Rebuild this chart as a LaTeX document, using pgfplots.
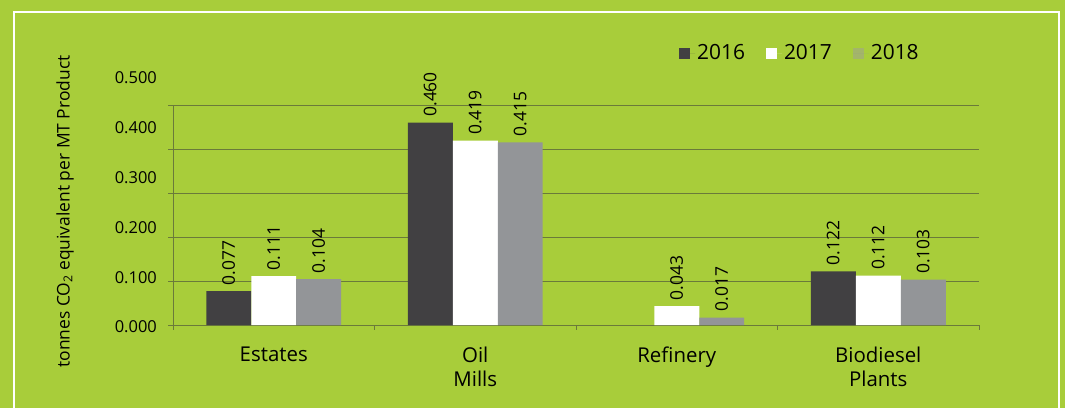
\documentclass[border=0pt]{standalone}
\usepackage{pgfplots}
\pgfplotsset{compat=1.18}
\usepackage{fontspec}
\setmainfont{Open Sans}
\definecolor{bg}{RGB}{168,205,58}
\definecolor{gridc}{RGB}{106,122,58}
\definecolor{c2016}{RGB}{65,64,66}
\definecolor{c2018}{RGB}{147,149,152}
\definecolor{leg2018}{RGB}{163,181,106}
\begin{document}
\begin{tikzpicture}
\path[use as bounding box] (0,0) rectangle (1065bp,408bp);
\fill[bg] (0,0) rectangle (1065bp,408bp);
\draw[white, line width=2bp] (14bp,-5bp) -- (14bp,396bp) -- (1059bp,396bp) -- (1059bp,-5bp);
% y tick labels (offset from grid as in the reference)
\begin{axis}[
  at={(173bp,81bp)}, anchor=south west, scale only axis,
  width=806bp, height=249bp,
  xmin=0, xmax=1, ymin=0, ymax=0.5,
  hide x axis, axis line style={draw=none},
  ytick={0,0.1,0.2,0.3,0.4,0.5},
  yticklabels={0.000,0.100,0.200,0.300,0.400,0.500},
  major tick length=0pt,
  yticklabel style={font=\fontsize{16.5}{20}\selectfont, anchor=east, inner sep=0pt, xshift=-16bp},
]
\end{axis}
\begin{axis}[
  at={(173bp,83bp)}, anchor=south west, scale only axis,
  width=806bp, height=220bp,
  xmin=-0.5, xmax=3.5, ymin=0, ymax=0.5,
  ybar=0pt, bar width=0.2233,
  axis x line*=bottom, axis y line*=left,
  axis line style={-, draw=gridc, line width=1bp},
  ytick={0,0.1,0.2,0.3,0.4,0.5}, yticklabels={},
  ymajorgrids, grid style={draw=gridc, line width=1bp},
  xtick={-0.5,0.5,1.5,2.5,3.5}, xticklabels={},
  extra x ticks={0,1,2,3},
  extra x tick labels={Estates,{Oil\\Mills},Refinery,{Biodiesel\\Plants}},
  extra x tick style={major tick length=0pt, grid=none,
    xticklabel style={align=center, font=\fontsize{20.5}{24}\selectfont, anchor=north, inner sep=0pt, yshift=-22bp}},
  tick align=outside, major tick length=5bp,
  tick style={draw=gridc, line width=1bp},
  clip=false,
  ylabel={tonnes CO\textsubscript{2} equivalent per MT Product},
  ylabel style={at={(axis description cs:-0.134,0.516)}, anchor=center, font=\fontsize{17.5}{20}\selectfont},
  nodes near coords={\pgfmathprintnumber[fixed,fixed zerofill,precision=3,assume math mode=true]{\pgfplotspointmeta}},
  every node near coord/.append style={rotate=90, anchor=west, inner xsep=6bp, inner ysep=0pt, outer sep=0pt, font=\fontsize{17.5}{20}\selectfont, text=black},
  legend style={at={(axis description cs:0.628,1.236)}, anchor=west, draw=none, fill=none,
    inner sep=0pt, outer sep=0pt, font=\fontsize{21}{24}\selectfont, legend columns=3,
    /tikz/every even column/.append style={column sep=19bp}},
  legend cell align=left,
]
\addplot[fill=c2016, draw=none,
  legend image code/.code={\fill[c2016] (0bp,-5.5bp) rectangle (11bp,5.5bp); \path (0bp,0bp) -- (16bp,0bp);}]
  coordinates {(0,0.077) (1,0.460) (3,0.122)};
\addplot[fill=white, draw=none,
  legend image code/.code={\fill[white] (0bp,-5.5bp) rectangle (11bp,5.5bp); \path (0bp,0bp) -- (16bp,0bp);}]
  coordinates {(0,0.111) (1,0.419) (2,0.043) (3,0.112)};
\addplot[fill=c2018, draw=none,
  legend image code/.code={\fill[leg2018] (0bp,-5.5bp) rectangle (11bp,5.5bp); \path (0bp,0bp) -- (16bp,0bp);}]
  coordinates {(0,0.104) (1,0.415) (2,0.017) (3,0.103)};
\legend{2016,2017,2018}
\end{axis}
\end{tikzpicture}
\end{document}
